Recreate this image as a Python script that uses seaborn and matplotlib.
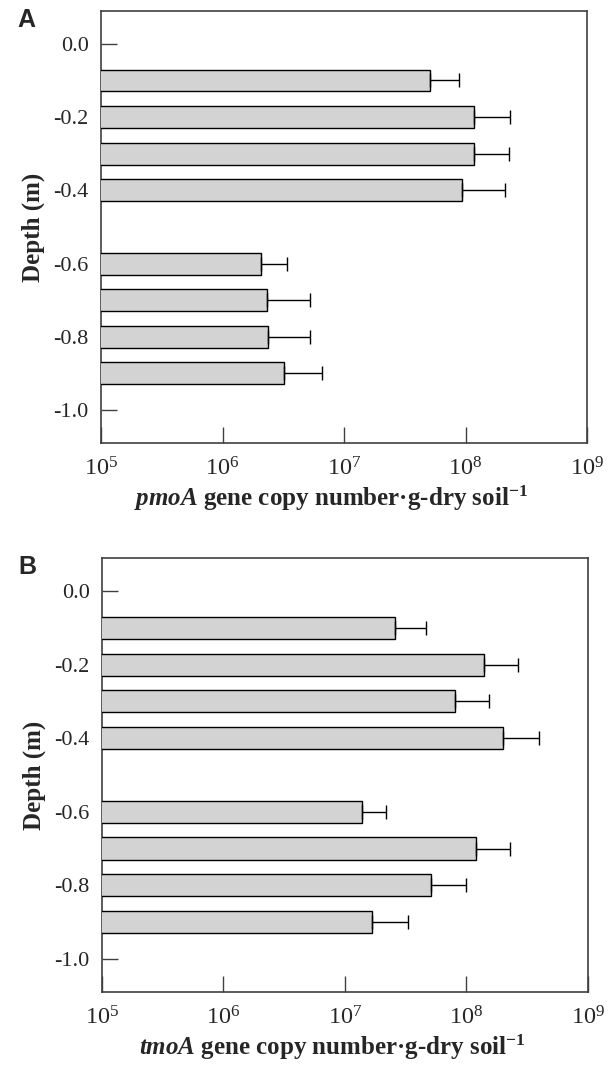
import numpy as np
import pandas as pd
import matplotlib
matplotlib.use("Agg")
import matplotlib.pyplot as plt
import matplotlib.ticker as mticker
import seaborn as sns

# Profundidades das amostras (m)
depths = [-0.1, -0.2, -0.3, -0.4, -0.6, -0.7, -0.8, -0.9]

# pmoA: média e erro (lado superior) em cópias por g de solo seco
pmoa_mean = [5.1e7, 1.18e8, 1.18e8, 9.3e7, 2.06e6, 2.31e6, 2.37e6, 3.19e6]
pmoa_err = [3.7e7, 1.14e8, 1.12e8, 1.17e8, 1.31e6, 2.94e6, 2.85e6, 3.43e6]

# tmoA: média e erro
tmoa_mean = [2.56e7, 1.39e8, 8.09e7, 1.99e8, 1.39e7, 1.19e8, 5.1e7, 1.68e7]
tmoa_err = [2.08e7, 1.28e8, 7.1e7, 1.96e8, 7.8e6, 1.09e8, 4.74e7, 1.64e7]

y_ticks = [0.0, -0.2, -0.4, -0.6, -0.8, -1.0]
x_ticks = [1e5, 1e6, 1e7, 1e8, 1e9]
x_ticklabels = [r"$10^{5}$", r"$10^{6}$", r"$10^{7}$", r"$10^{8}$", r"$10^{9}$"]

sns.set_style("ticks")
plt.rcParams["font.family"] = ["Liberation Serif", "DejaVu Serif"]
plt.rcParams["axes.unicode_minus"] = False
plt.rcParams["mathtext.fontset"] = "custom"
plt.rcParams["mathtext.rm"] = "Liberation Serif"
plt.rcParams["mathtext.it"] = "Liberation Serif:italic"
plt.rcParams["mathtext.bf"] = "Liberation Serif:bold"
plt.rcParams["mathtext.bfit"] = "Liberation Serif:bold:italic"

fig = plt.figure(figsize=(6.13, 10.71), dpi=100)
ax_a = fig.add_axes([0.1648, 0.5864, 0.7928, 0.4034])
ax_b = fig.add_axes([0.1664, 0.0738, 0.7928, 0.4052])

paineis = [
    (ax_a, pmoa_mean, pmoa_err, r"$\mathbfit{pmoA}$ gene copy number·g-dry soil$^{\mathbf{-1}}$", "A"),
    (ax_b, tmoa_mean, tmoa_err, r"$\mathbfit{tmoA}$ gene copy number·g-dry soil$^{\mathbf{-1}}$", "B"),
]

for ax, media, erro, rotulo, letra in paineis:
    df = pd.DataFrame({"Depth": depths, "Copies": media})
    ax.set_xscale("log")
    sns.barplot(data=df, x="Copies", y="Depth", orient="h", native_scale=True,
                width=0.6, color="#d3d3d3", edgecolor="black", linewidth=1.0,
                saturation=1, errorbar=None, ax=ax, zorder=3)
    ax.errorbar(media, depths, xerr=[np.zeros(len(erro)), erro], fmt="none",
                ecolor="black", elinewidth=1.0, capsize=4.7, capthick=1.0, zorder=3)

    ax.set_xlim(1e5, 1e9)
    ax.set_ylim(-1.09, 0.09)
    ax.set_xticks(x_ticks)
    ax.set_xticklabels(x_ticklabels, fontsize=17.5)
    ax.xaxis.set_minor_locator(mticker.NullLocator())
    ax.set_yticks(y_ticks)
    ax.yaxis.set_major_formatter(mticker.FormatStrFormatter("%.1f"))
    ax.tick_params(axis="y", direction="in", length=11.5, width=1.0, labelsize=16,
                   pad=9, color="#404040")
    ax.tick_params(axis="x", direction="in", length=11.5, width=1.0, pad=10,
                   color="#404040")
    for s in ax.spines.values():
        s.set_color("#404040")
        s.set_linewidth(1.2)
        s.set_visible(True)

    ax.set_xlabel(rotulo, fontsize=18, fontweight="bold", labelpad=5)
    ax.xaxis.set_label_coords(0.474, -0.094)
    ax.set_ylabel("Depth (m)", fontsize=18, fontweight="bold", labelpad=6)
    ax.text(-0.172, 0.979, letra, transform=ax.transAxes, fontsize=18,
            fontweight="bold", family="Liberation Sans", va="center", ha="left")

fig.savefig("out.png", dpi=100)
